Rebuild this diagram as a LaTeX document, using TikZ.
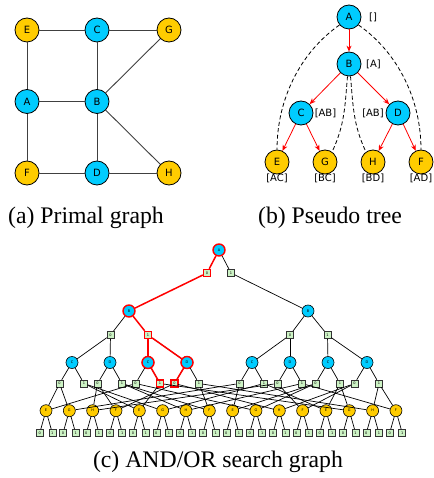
\documentclass[tikz,border=0pt]{standalone}
\usepackage{fontspec}
\setmainfont{Liberation Serif}
\newfontfamily\capfont{Liberation Serif}
\newfontfamily\lblfont{DejaVu Sans}
\usetikzlibrary{arrows.meta}
\definecolor{orc}{HTML}{00CCFF}
\definecolor{leafc}{HTML}{FFCC00}
\definecolor{andc}{HTML}{CCF2C4}
\begin{document}
\begin{tikzpicture}[x=1pt,y=1pt,
  bignode/.style={circle, draw=black, line width=0.8pt, minimum size=24pt, inner sep=0pt, font=\lblfont\fontsize{10}{10}\selectfont},
  bigor/.style={bignode, fill=orc},
  bigleaf/.style={bignode, fill=leafc},
  pedge/.style={line width=0.9pt, draw=black!75},
  tlabel/.style={font=\lblfont\fontsize{10}{10}\selectfont, inner sep=0pt},
  tarrow/.style={draw=red, line width=0.8pt, -{Stealth[length=6pt,width=5pt]}},
  tdash/.style={draw=black, line width=0.8pt, dashed, dash pattern=on 4pt off 2.5pt},
  captxt/.style={font=\capfont\fontsize{23.75}{28}\selectfont, inner sep=0pt},
  smallnode/.style={circle, draw=black, line width=0.6pt, minimum size=12pt, inner sep=0pt, font=\lblfont\fontsize{3.5}{4}\selectfont},
  sor/.style={smallnode, fill=orc},
  sleaf/.style={smallnode, fill=leafc},
  sand/.style={rectangle, draw=black!80, line width=0.6pt, fill=andc, minimum size=7pt, inner sep=0pt, font=\lblfont\fontsize{3.5}{4}\selectfont},
  redor/.style={draw=red, line width=1.4pt},
  sedge/.style={line width=0.7pt, draw=black},
  redge/.style={line width=1.5pt, draw=red}
]
\useasboundingbox (0,0) rectangle (433,-478);

% (a) primal graph
\node[bigleaf] (pE) at (27,-30) {E};
\node[bigor]   (pC) at (97,-30) {C};
\node[bigleaf] (pG) at (169,-30) {G};
\node[bigor]   (pA) at (27,-101.5) {A};
\node[bigor]   (pB) at (97,-101.5) {B};
\node[bigleaf] (pF) at (27,-173) {F};
\node[bigor]   (pD) at (97,-173) {D};
\node[bigleaf] (pH) at (169,-173) {H};
\draw[pedge] (pE) -- (pC);
\draw[pedge] (pC) -- (pG);
\draw[pedge] (pE) -- (pA);
\draw[pedge] (pC) -- (pB);
\draw[pedge] (pG) -- (pB);
\draw[pedge] (pA) -- (pB);
\draw[pedge] (pA) -- (pF);
\draw[pedge] (pB) -- (pD);
\draw[pedge] (pB) -- (pH);
\draw[pedge] (pF) -- (pD);
\draw[pedge] (pD) -- (pH);
\node[captxt] (capa) at (86,-218) {(a) Primal graph};

% (b) pseudo tree
\node[bigor]   (tA) at (349,-17) {A};
\node[bigor]   (tB) at (349,-64) {B};
\node[bigor]   (tC) at (301,-113) {C};
\node[bigor]   (tD) at (398,-113) {D};
\node[bigleaf] (tE) at (277,-162) {E};
\node[bigleaf] (tG) at (325,-162) {G};
\node[bigleaf] (tH) at (373,-162) {H};
\node[bigleaf] (tF) at (421,-162) {F};
\node[tlabel] (lA) at (373,-17) {[]};
\node[tlabel] (lB) at (373.5,-64) {[A]};
\node[tlabel] (lC) at (325.5,-113) {[AB]};
\node[tlabel] (lD) at (373,-113) {[AB]};
\node[tlabel] (lE) at (277,-178.5) {[AC]};
\node[tlabel] (lG) at (325,-178.5) {[BC]};
\node[tlabel] (lH) at (373,-178.5) {[BD]};
\node[tlabel] (lF) at (421,-178.5) {[AD]};
\draw[tarrow] (tA) -- (tB);
\draw[tarrow] (tB) -- (tC);
\draw[tarrow] (tB) -- (tD);
\draw[tarrow] (tC) -- (tE);
\draw[tarrow] (tC) -- (tG);
\draw[tarrow] (tD) -- (tH);
\draw[tarrow] (tD) -- (tF);
\draw[tdash] (tA.220) to[out=215,in=90,looseness=0.9] (tE.north);
\draw[tdash] (tA.-40) to[out=-35,in=90,looseness=0.9] (tF.north);
\draw[tdash] (tB.-97) to[out=-95,in=65] (tG.55);
\draw[tdash] (tB.-83) to[out=-85,in=115] (tH.125);
\node[captxt] (capb) at (330,-218) {(b) Pseudo tree};

% (c) AND/OR search graph
\node[sor, redor] (sA) at (219,-250) {A};
\node[sand, redor] (s0) at (207,-273) {0};
\node[sand] (s1) at (231,-273) {1};
\node[sor, redor] (sB0) at (129,-311) {B};
\node[sor] (sB1) at (308,-311) {B};
\node[sand] (s00) at (110.5,-335) {0};
\node[sand, redor] (s01) at (148,-335) {1};
\node[sand] (s10) at (290,-335) {0};
\node[sand] (s11) at (327.5,-335) {1};

\foreach \a/\b/\cx/\dx in {0/0/72/110, 0/1/148/187, 1/0/252/290, 1/1/328/367}{
  \node[sor] (sC\a\b) at (\cx,-362.5) {C};
  \node[sor] (sD\a\b) at (\dx,-362.5) {D};
  \foreach \v in {0,1}{
    \node[sand] (sC\a\b-\v) at ({\cx-12.5+24.5*\v},-383.5) {\v};
    \node[sand] (sD\a\b-\v) at ({\dx-12.5+24.5*\v},-383.5) {\v};
  }
}
\node[sor, redor] at (sC01) {C};
\node[sor, redor] at (sD01) {D};
\node[sand, redor] at (sC01-1) {1};
\node[sand, redor] at (sD01-0) {0};

\foreach \i/\l in {0/E,1/G,2/H,3/F,4/E,5/G,6/H,7/F,8/E,9/G,10/H,11/F,12/E,13/G,14/H,15/F}{
  \node[sleaf] (L\i) at ({46+23.33*\i},-410.7) {\l};
  \node[sand] (L\i-0) at ({46+23.33*\i-6.3},-433) {0};
  \node[sand] (L\i-1) at ({46+23.33*\i+6.3},-433) {1};
  \draw[sedge] (L\i) -- (L\i-0);
  \draw[sedge] (L\i) -- (L\i-1);
}

% upper edges
\draw[sedge] (sA) -- (s1);
\draw[sedge] (s1) -- (sB1);
\draw[sedge] (sB0) -- (s00);
\draw[sedge] (sB1) -- (s10);
\draw[sedge] (sB1) -- (s11);
\foreach \a in {0,1}{
  \foreach \b in {0,1}{
    \draw[sedge] (s\a\b) -- (sC\a\b);
    \draw[sedge] (s\a\b) -- (sD\a\b);
    \foreach \v in {0,1}{
      \draw[sedge] (sC\a\b) -- (sC\a\b-\v);
      \draw[sedge] (sD\a\b) -- (sD\a\b-\v);
      \pgfmathtruncatemacro\ie{4*(2*\a+\v)}
      \pgfmathtruncatemacro\ig{4*(2*\b+\v)+1}
      \pgfmathtruncatemacro\ih{4*(2*\b+\v)+2}
      \pgfmathtruncatemacro\iF{4*(2*\a+\v)+3}
      \draw[sedge] (sC\a\b-\v) -- (L\ie);
      \draw[sedge] (sC\a\b-\v) -- (L\ig);
      \draw[sedge] (sD\a\b-\v) -- (L\ih);
      \draw[sedge] (sD\a\b-\v) -- (L\iF);
    }
  }
}
% red solution path
\draw[redge] (sA) -- (s0);
\draw[redge] (s0) -- (sB0);
\draw[redge] (sB0) -- (s01);
\draw[redge] (s01) -- (sC01);
\draw[redge] (s01) -- (sD01);
\draw[redge] (sC01) -- (sC01-1);
\draw[redge] (sD01) -- (sD01-0);

\node[captxt] (capc) at (218,-462) {(c) AND/OR search graph};
\end{tikzpicture}
\end{document}
